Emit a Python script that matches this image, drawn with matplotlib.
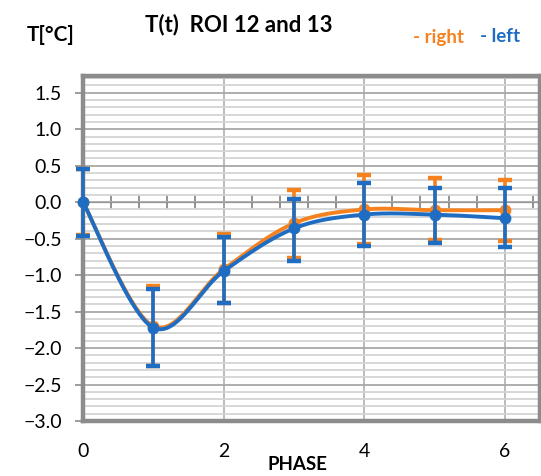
import numpy as np
import matplotlib
matplotlib.use("Agg")
import matplotlib.pyplot as plt
from matplotlib.ticker import MultipleLocator, FixedLocator, NullFormatter

plt.rcParams['font.family'] = ['Lato', 'DejaVu Sans']

# ---- data ----
phase = [0, 1, 2, 3, 4, 5, 6]
right_mean = [0.0, -1.70, -0.92, -0.29, -0.10, -0.11, -0.11]
right_upper = [0.46, -1.15, -0.44, 0.17, 0.37, 0.33, 0.31]
right_lower = [-0.45, -2.25, -1.38, -0.77, -0.58, -0.52, -0.53]
left_mean = [0.0, -1.72, -0.945, -0.36, -0.17, -0.17, -0.22]
left_upper = [0.46, -1.19, -0.48, 0.05, 0.26, 0.20, 0.19]
left_lower = [-0.46, -2.25, -1.38, -0.81, -0.60, -0.56, -0.62]
ytick_vals = [1.5, 1.0, 0.5, 0.0, -0.5, -1.0, -1.5, -2.0, -2.5, -3.0]
xtick_vals = [0, 2, 4, 6]

ORANGE = '#F5821F'
BLUE = '#1F6DC2'


def smooth(xs, ys, n=40):
    """Excel-like smoothed line: cubic Bezier with Catmull-Rom control points."""
    P = np.column_stack([xs, ys]).astype(float)
    out = []
    m = len(P)
    t = np.linspace(0, 1, n)[:, None]
    for i in range(m - 1):
        p0 = P[i - 1] if i > 0 else P[i]
        p1 = P[i]
        p2 = P[i + 1]
        p3 = P[i + 2] if i + 2 < m else P[i + 1]
        c1 = p1 + (p2 - p0) / 6.0
        c2 = p2 - (p3 - p1) / 6.0
        seg = ((1 - t) ** 3) * p1 + 3 * ((1 - t) ** 2) * t * c1 + 3 * (1 - t) * t ** 2 * c2 + t ** 3 * p2
        out.append(seg if i == 0 else seg[1:])
    s = np.vstack(out)
    return s[:, 0], s[:, 1]


fig = plt.figure(figsize=(5.41, 4.76), dpi=100)
ax = fig.add_axes([83 / 541, 55 / 476, 457 / 541, 345 / 476])
ymin, ymax = -3.0, 1.73
ax.set_xlim(0, 6.5)
ax.set_ylim(ymin, ymax)

# grid
ax.yaxis.set_major_locator(FixedLocator(ytick_vals))
ax.yaxis.set_minor_locator(MultipleLocator(0.1))
ax.grid(which='minor', axis='y', color='#d4d4d4', lw=1.3, zorder=0)
ax.grid(which='major', axis='y', color='#a8a8a8', lw=1.3, zorder=0)
ax.xaxis.set_major_locator(FixedLocator(xtick_vals))
ax.grid(which='major', axis='x', color='#a8a8a8', lw=1.1, zorder=0)
ax.set_yticklabels([('%.1f' % v).replace('-', '\u2212') for v in ytick_vals], fontsize=14)
ax.tick_params(axis='y', which='major', direction='out', length=6, width=1.2, color='#8c8c8c', pad=9)
ax.tick_params(axis='y', which='minor', length=0)
ax.tick_params(axis='x', which='major', length=0, pad=16, labelsize=14)

for sp in ax.spines.values():
    sp.set_color('#8c8c8c')
    sp.set_linewidth(3.2)

# horizontal axis crossing at y=0
sec = ax.secondary_xaxis((0 - ymin) / (ymax - ymin))
sec.spines['bottom'].set_color('#808080')
sec.spines['bottom'].set_linewidth(1.3)
sec.xaxis.set_major_locator(MultipleLocator(0.4))
sec.xaxis.set_major_formatter(NullFormatter())
sec.tick_params(axis='x', direction='inout', length=10, width=1.2, color='#808080')

# series
for mean, up, lo, col, z in [(right_mean, right_upper, right_lower, ORANGE, 3),
                             (left_mean, left_upper, left_lower, BLUE, 4)]:
    mean = np.array(mean)
    yerr = np.vstack([mean - np.array(lo), np.array(up) - mean])
    ax.errorbar(phase, mean, yerr=yerr, fmt='none', ecolor=col, elinewidth=2.6,
                capsize=5, capthick=3.2, zorder=z, clip_on=False)
    sx, sy = smooth(phase, mean)
    ax.plot(sx, sy, color=col, lw=2.8, zorder=z + 0.5, clip_on=False)
    ax.plot(phase, mean, 'o', color=col, ms=7.5, zorder=z + 0.6, clip_on=False)

# texts
fig.text(27 / 541, 1 - 35 / 476, 'T[°C]', fontsize=15, fontweight='bold', ha='left', va='center')
fig.text(239 / 541, 1 - 25 / 476, 'T(t)  ROI 12 and 13', fontsize=16, fontweight='bold', ha='center', va='center')
fig.text(413 / 541, 1 - 37 / 476, '- right', fontsize=13.5, fontweight='bold', color=ORANGE, ha='left', va='center')
fig.text(480 / 541, 1 - 37 / 476, '- left', fontsize=13.5, fontweight='bold', color=BLUE, ha='left', va='center')
fig.text(297 / 541, 1 - 465 / 476, 'PHASE', fontsize=13.5, fontweight='bold', ha='center', va='center')

fig.savefig('out.png', dpi=100)
